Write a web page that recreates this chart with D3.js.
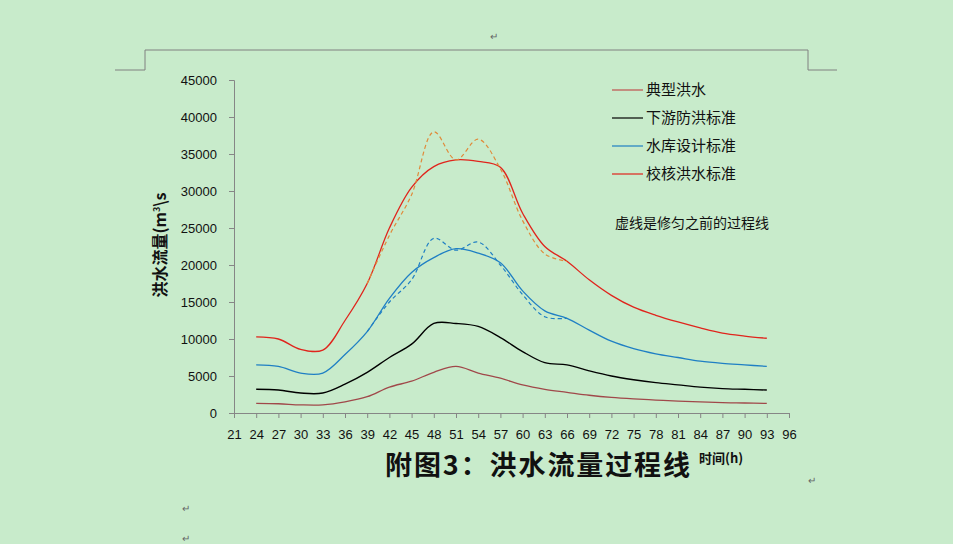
<!DOCTYPE html>
<html><head><meta charset="utf-8">
<script src="https://cdn.jsdelivr.net/npm/d3@7"></script>
<style>body{margin:0;background:#c8ebcb;}svg{display:block;font-family:"Noto Sans CJK SC","Noto Sans",sans-serif;}</style>
</head><body><svg id="c" width="953" height="544"></svg>
<script>
const hours = [24,27,30,33,36,39,42,45,48,51,54,57,60,63,66,69,72,75,78,81,84,87,90,93];
const typical = [1300,1250,1100,1100,1500,2200,3500,4300,5500,6300,5400,4700,3800,3200,2800,2400,2100,1900,1750,1600,1500,1400,1350,1300];
const downstream = [3200,3100,2700,2700,3900,5500,7500,9300,12100,12100,11700,10200,8300,6800,6500,5700,5000,4500,4100,3800,3500,3300,3200,3100];
const design = [6500,6300,5400,5400,7900,11000,15500,19000,21000,22200,21600,20300,16500,13800,12800,11200,9700,8700,8000,7500,7000,6700,6500,6300];
const check = [10300,10000,8600,8500,12500,17500,25000,30500,33300,34200,34000,33200,27000,22500,20500,18000,15900,14300,13200,12300,11500,10800,10400,10100];
const dashHours = [39,42,45,48,51,54,57,60,63,66];
const designBefore = [11000,15000,18000,23600,22000,23100,20000,16000,13000,12800];
const checkBefore = [17500,24000,29500,38000,34200,37000,33000,26000,21500,20500];
const xTicks = d3.range(21,97,3);
const yTicks = d3.range(0,45001,5000);
const legendNames = ["典型洪水","下游防洪标准","水库设计标准","校核洪水标准"];

const svg = d3.select("#c");
const g0 = svg.append("g").attr("stroke","#808080").attr("fill","none");
g0.append("path").attr("d","M115,70H145V50H808V70H837");
svg.append("text").attr("x",490).attr("y",40).attr("font-size",10).attr("fill","#666").text("↵");
svg.append("text").attr("x",808).attr("y",484).attr("font-size",10).attr("fill","#666").text("↵");
svg.append("text").attr("x",182).attr("y",512).attr("font-size",10).attr("fill","#666").text("↵");
svg.append("text").attr("x",182).attr("y",542).attr("font-size",10).attr("fill","#666").text("↵");

const x = d3.scaleLinear().domain([21,96]).range([234,789]);
const y = d3.scaleLinear().domain([0,45000]).range([413,80]);

svg.append("g").attr("transform","translate(234,0)")
  .call(d3.axisLeft(y).tickValues(yTicks).tickSize(5).tickPadding(12).tickFormat(d3.format("d")))
  .call(g=>{g.selectAll("path,line").attr("stroke","#868686");g.selectAll("text").attr("font-size",13).attr("fill","#111").attr("font-family","Liberation Sans, Arial");});
svg.append("g").attr("transform","translate(0,413)")
  .call(d3.axisBottom(x).tickValues(xTicks).tickSize(5).tickSizeOuter(0).tickPadding(12))
  .call(g=>{g.selectAll("path,line").attr("stroke","#868686");g.selectAll("text").attr("font-size",13).attr("fill","#111").attr("font-family","Liberation Sans, Arial");});

const line = d3.line().curve(d3.curveCatmullRom.alpha(0.5));
function draw(xs, ys, color, w, dash){
  svg.append("path").attr("fill","none").attr("stroke",color).attr("stroke-width",w)
    .attr("stroke-dasharray",dash||null)
    .attr("d", line(xs.map((h,i)=>[x(h),y(ys[i])])));
}
draw(hours,typical,"#a0484a",1.3);
draw(hours,downstream,"#000",1.4);
draw(hours,design,"#1f7fc4",1.3);
draw(hours,check,"#e0241c",1.3);
draw(dashHours,designBefore,"#1f7fc4",1.2,"4,3");
draw(dashHours,checkBefore,"#e08a3a",1.2,"4,3");

const cols = ["#c0504d","#000","#1f7fc4","#e0241c"];
legendNames.forEach((n,i)=>{
  const yy = 89+i*28;
  svg.append("line").attr("x1",612).attr("x2",643).attr("y1",yy+1).attr("y2",yy+1).attr("stroke",cols[i]).attr("stroke-width",1.2);
  svg.append("text").attr("x",646).attr("y",yy+6).attr("font-size",15).attr("fill","#111").text(n);
});
svg.append("text").attr("x",615).attr("y",228).attr("font-size",14).attr("fill","#111").text("虚线是修匀之前的过程线");

svg.append("text").attr("transform","translate(166,245) rotate(-90)").attr("text-anchor","middle")
  .attr("font-size",16).attr("font-weight","bold").attr("fill","#111")
  .html('洪水流量(m<tspan font-size="9" dy="-6">3</tspan><tspan dy="6">\\s</tspan>');
svg.append("text").attr("x",385).attr("y",475).attr("font-size",27).attr("font-weight","bold").attr("fill","#111")
  .attr("textLength",305).attr("lengthAdjust","spacing").text("附图3：洪水流量过程线");
svg.append("text").attr("x",699).attr("y",463).attr("font-size",13).attr("font-weight","bold").attr("fill","#111").text("时间(h)");
</script></body></html>
